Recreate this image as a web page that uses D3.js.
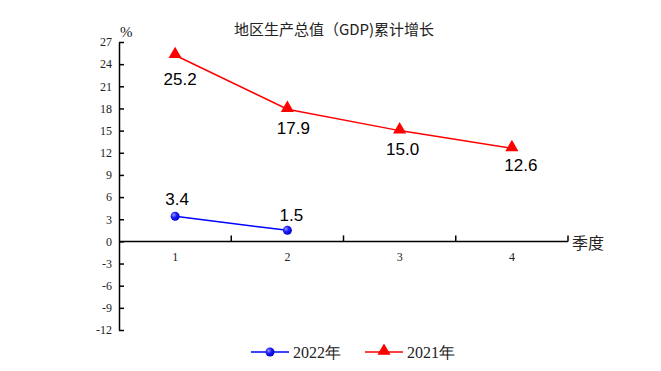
<!DOCTYPE html>
<html>
<head>
<meta charset="utf-8">
<script src="https://cdn.jsdelivr.net/npm/d3@7"></script>
<style>
  body { margin: 0; background: #fff; }
</style>
</head>
<body>
<script>
var quarters = ["1", "2", "3", "4"];
var values2022 = [3.4, 1.5];
var values2021 = [25.2, 17.9, 15.0, 12.6];
var yTicks = [27, 24, 21, 18, 15, 12, 9, 6, 3, 0, -3, -6, -9, -12];

// label nudges (px) so the value labels sit where the original puts them
var offs2021 = [[5, 30], [6, 25], [3, 24], [9, 23]];
var offs2022 = [[2, -11], [4, -9]];

var width = 661, height = 371;

var svg = d3.select("body").append("svg")
    .attr("width", width)
    .attr("height", height);

var defs = svg.append("defs");
var grad = defs.append("radialGradient")
    .attr("id", "ball")
    .attr("cx", "35%").attr("cy", "35%").attr("r", "65%");
grad.append("stop").attr("offset", "0%").attr("stop-color", "#9999ff");
grad.append("stop").attr("offset", "45%").attr("stop-color", "#2222ff");
grad.append("stop").attr("offset", "100%").attr("stop-color", "#0000cc");

var x = d3.scaleBand()
    .domain(quarters)
    .range([119, 568]);

var y = d3.scaleLinear()
    .domain([-12, 27])
    .range([330, 42]);

var serif = "'Liberation Serif', 'Times New Roman', serif";
var cjk = "'Noto Sans CJK SC', sans-serif";
var sans = "'Liberation Sans', Arial, sans-serif";

// title
svg.append("text")
    .attr("x", 334).attr("y", 35)
    .attr("text-anchor", "middle")
    .style("font-family", cjk)
    .style("font-size", "15px")
    .style("fill", "#222")
    .text("地区生产总值（GDP)累计增长");

// y axis
var yAxis = d3.axisLeft(y)
    .tickValues(yTicks)
    .tickFormat(function (d) { return String(d); })
    .tickSizeInner(-5)
    .tickSizeOuter(0)
    .tickPadding(7);

var gy = svg.append("g")
    .attr("transform", "translate(119,0)")
    .call(yAxis);
gy.select(".domain").attr("stroke", "#000").attr("stroke-width", 1.5);
gy.selectAll(".tick line").attr("stroke", "#000").attr("stroke-width", 1.5);
gy.selectAll(".tick text")
    .style("font-family", serif)
    .style("font-size", "12px")
    .style("fill", "#222");

svg.append("text")
    .attr("x", 120).attr("y", 37)
    .style("font-family", serif)
    .style("font-size", "15px")
    .style("fill", "#222")
    .text("%");

// x axis at 0
var edges = quarters.map(function (q) { return x(q) + x.bandwidth(); });
var gx = svg.append("g").attr("transform", "translate(0," + y(0) + ")");
gx.append("line")
    .attr("x1", 119).attr("x2", 568)
    .attr("stroke", "#000").attr("stroke-width", 1.5);
gx.selectAll(".edge").data(edges).enter().append("line")
    .attr("x1", function (d) { return d; }).attr("x2", function (d) { return d; })
    .attr("y1", 0).attr("y2", -6)
    .attr("stroke", "#000").attr("stroke-width", 1.5);
gx.selectAll(".lbl").data(quarters).enter().append("text")
    .attr("x", function (d) { return x(d) + x.bandwidth() / 2; })
    .attr("y", 20)
    .attr("text-anchor", "middle")
    .style("font-family", serif)
    .style("font-size", "12px")
    .style("fill", "#222")
    .text(function (d) { return d; });

svg.append("text")
    .attr("x", 572).attr("y", 249)
    .style("font-family", cjk)
    .style("font-size", "16px")
    .style("fill", "#222")
    .text("季度");

function cx(i) { return x(quarters[i]) + x.bandwidth() / 2; }

var line = d3.line()
    .x(function (d, i) { return cx(i); })
    .y(function (d) { return y(d); });

var tri = d3.symbol().type(d3.symbolTriangle).size(75);

// 2021 series
svg.append("path")
    .datum(values2021)
    .attr("d", line)
    .attr("fill", "none")
    .attr("stroke", "#ff0000")
    .attr("stroke-width", 1.5);
svg.selectAll(".m21").data(values2021).enter().append("path")
    .attr("d", tri)
    .attr("transform", function (d, i) { return "translate(" + cx(i) + "," + (y(d) - 1) + ")"; })
    .attr("fill", "#ff0000");
svg.selectAll(".l21").data(values2021).enter().append("text")
    .attr("x", function (d, i) { return cx(i) + offs2021[i][0]; })
    .attr("y", function (d, i) { return y(d) + offs2021[i][1]; })
    .attr("text-anchor", "middle")
    .style("font-family", sans)
    .style("font-size", "17px")
    .style("fill", "#000")
    .text(function (d) { return d.toFixed(1); });

// 2022 series
svg.append("path")
    .datum(values2022)
    .attr("d", line)
    .attr("fill", "none")
    .attr("stroke", "#0000ff")
    .attr("stroke-width", 1.5);
svg.selectAll(".m22").data(values2022).enter().append("circle")
    .attr("cx", function (d, i) { return cx(i); })
    .attr("cy", function (d) { return y(d); })
    .attr("r", 4.5)
    .attr("fill", "url(#ball)");
svg.selectAll(".l22").data(values2022).enter().append("text")
    .attr("x", function (d, i) { return cx(i) + offs2022[i][0]; })
    .attr("y", function (d, i) { return y(d) + offs2022[i][1]; })
    .attr("text-anchor", "middle")
    .style("font-family", sans)
    .style("font-size", "17px")
    .style("fill", "#000")
    .text(function (d) { return d.toFixed(1); });

// legend
var legend = [
    { name: "2022年", color: "#0000ff", x: 251, shape: "circle" },
    { name: "2021年", color: "#ff0000", x: 365, shape: "tri" }
];
var lg = svg.selectAll(".lg").data(legend).enter().append("g")
    .attr("transform", function (d) { return "translate(" + d.x + ",352)"; });
lg.append("line")
    .attr("x1", 0).attr("x2", 38)
    .attr("stroke", function (d) { return d.color; })
    .attr("stroke-width", 1.5);
lg.each(function (d) {
    var g = d3.select(this);
    if (d.shape === "circle") {
        g.append("circle").attr("cx", 19).attr("cy", 0).attr("r", 4.5).attr("fill", "url(#ball)");
    } else {
        g.append("path").attr("d", tri).attr("transform", "translate(19,-1)").attr("fill", d.color);
    }
});
lg.append("text")
    .attr("x", 42).attr("y", 6)
    .style("font-family", serif)
    .style("font-size", "16px")
    .style("fill", "#222")
    .text(function (d) { return d.name; });
</script>
</body>
</html>
